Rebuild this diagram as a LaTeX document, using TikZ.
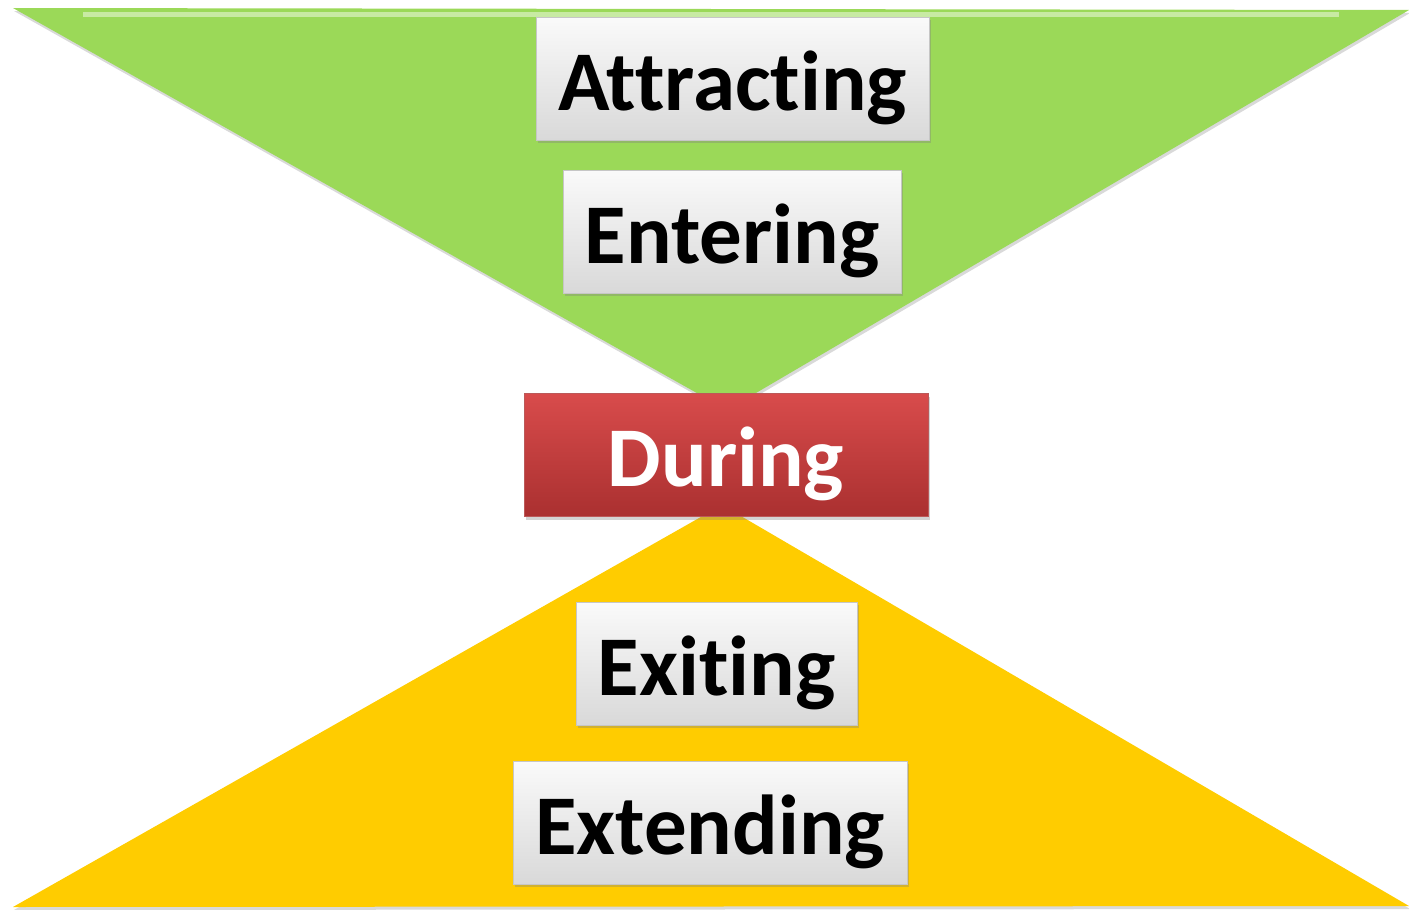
\documentclass[tikz,border=0pt]{standalone}
\usepackage{fontspec}
\setmainfont{Carlito}[Ligatures={NoCommon}]
\usetikzlibrary{positioning,shadows,calc}

\definecolor{leafgreen}{RGB}{155,217,88}
\definecolor{sunyellow}{RGB}{255,204,0}
\definecolor{stagered}{RGB}{214,66,66}
\definecolor{stagereddark}{RGB}{170,48,48}

\tikzset{
	stagebox/.style={rectangle, draw=gray!45, line width=0.8pt, top color=gray!4, bottom color=gray!30,
		drop shadow={opacity=0.35, shadow xshift=2pt, shadow yshift=-3pt},
		inner sep=0pt, minimum height=123pt, text height=90pt, text depth=27pt,
		font=\fontsize{85}{96}\selectfont\bfseries},
	middlebox/.style={stagebox, draw=stagereddark!80, top color=stagered!95!white, bottom color=stagereddark, text=white}
}

\begin{document}
\begin{tikzpicture}[x=1pt, y=-1pt]
			\useasboundingbox (0,0) rectangle (1409,910);

			% corners of the two triangles
			\coordinate (TL) at (13,8);
			\coordinate (TR) at (1409,10);
			\coordinate (TA) at (727,410);
			\coordinate (BL) at (13,907);
			\coordinate (BR) at (1409,906);
			\coordinate (BA) at (722,505);

			% Triangles
			\fill[leafgreen, drop shadow={opacity=0.3, shadow xshift=1pt, shadow yshift=-3pt}] (TL) -- (TR) -- (TA) -- cycle;
			\fill[sunyellow, drop shadow={opacity=0.3, shadow xshift=1pt, shadow yshift=-3pt}] (BL) -- (BA) -- (BR) -- cycle;
			\draw[leafgreen!55!white, line width=5pt] ($(TL)+(70,6)$) -- ($(TR)+(-70,4)$);

			% Boxes for the stages
			\node[stagebox, minimum width=393pt] (attract) at (732.5,78.5) {Attracting};
			\node[stagebox, minimum width=338pt] (enter) at (732,231.5) {Entering};
			\node[middlebox, minimum width=404pt] (during) at (726,455) {During};
			\node[stagebox, minimum width=281pt] (exit) at (716.5,663.5) {Exiting};
			\node[stagebox, minimum width=394pt] (extend) at (710,822.5) {Extending};

		\end{tikzpicture}
\end{document}
